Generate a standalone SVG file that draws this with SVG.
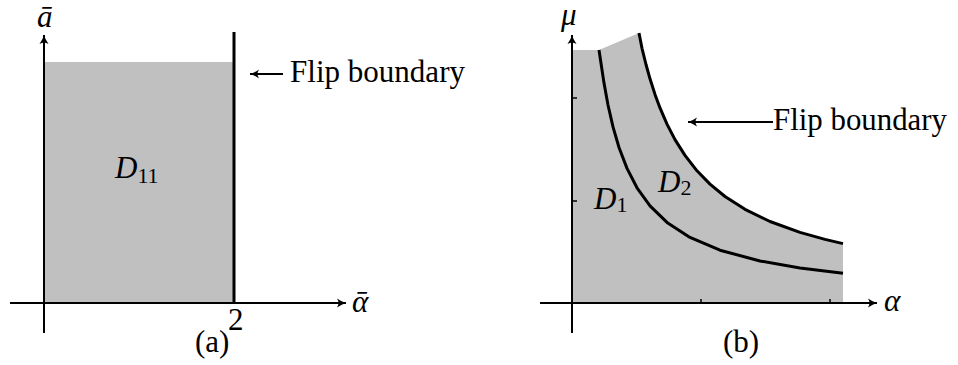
<svg xmlns="http://www.w3.org/2000/svg" width="958" height="365" viewBox="0 0 958 365">
<style>
.region{fill:#c0c0c0;stroke:none}
.axis{stroke:#000;stroke-width:2;fill:none}
.bound{stroke:#000;stroke-width:3;fill:none;stroke-linejoin:round}
.tick{stroke:#000;stroke-width:1.5}
.txt{font-family:"Liberation Serif","Times New Roman",serif;font-size:31px;fill:#000}
.math{font-family:"Liberation Serif","Times New Roman",serif;font-style:italic;font-size:31px;fill:#000}
.sub{font-family:"Liberation Serif","Times New Roman",serif;font-size:22px;fill:#000}
.arr{stroke:#000;stroke-width:1.8;fill:none}
</style>
<defs>
<marker id="tip" markerWidth="12" markerHeight="10" refX="0" refY="0" viewBox="-10 -5 12 10" orient="auto" markerUnits="userSpaceOnUse">
<path d="M-9,-4.5 Q-4,-1 0,0 Q-4,1 -9,4.5 Q-6,0 -9,-4.5 Z" fill="#000"/>
</marker>
</defs>

<g id="panel-a">
<rect class="region" x="44" y="62" width="190" height="241"/>
<g id="boundary-a"><line class="bound" x1="234" y1="32" x2="234" y2="303"/></g>
<text class="math" x="37" y="27" font-size="29">ā</text>
<text class="txt" x="228" y="330">2</text>
<text class="txt" x="195" y="352">(a)</text>
<text class="math" x="352" y="312">ᾱ</text>
<text id="D11" class="math" x="115" y="178">D<tspan class="sub" font-style="normal" dy="5">11</tspan></text>
<text class="txt" x="290" y="82" textLength="175" lengthAdjust="spacingAndGlyphs">Flip boundary</text>
</g>

<g id="panel-b">
<path class="region" d="M572,303 L572,50 L599,50 L639,33 L642,48.3 L646,64.5 L650,78.8 L655,94.4 L660,107.9 L667,124.1 L675,139.6 L685,155.4 L697,170.8 L710,184.1 L725,196.5 L745,209.3 L770,221.5 L800,232.4 L825,239.4 L843,243.6 L843,303 Z"/>
<g id="outer-curve"><path class="bound" d="M639,33 L642,48.3 L646,64.5 L650,78.8 L655,94.4 L660,107.9 L667,124.1 L675,139.6 L685,155.4 L697,170.8 L710,184.1 L725,196.5 L745,209.3 L770,221.5 L800,232.4 L825,239.4 L843,243.6"/></g>
<g id="inner-curve"><path class="bound" d="M599,50 L601,63.2 L604,83.1 L608,105 L613,126.9 L619,147.5 L627,168.4 L637,187.8 L650,205.9 L667,222.4 L690,237.4 L720,250.2 L760,261 L800,268 L843,273.3"/></g>
<line class="tick" x1="572" y1="98" x2="577" y2="98"/>
<line class="tick" x1="572" y1="201" x2="577" y2="201"/>
<line class="tick" x1="701" y1="303" x2="701" y2="299"/>
<line class="tick" x1="830" y1="303" x2="830" y2="299"/>
<text class="math" x="561" y="25" font-size="27">μ</text>
<text class="math" x="884" y="311">α</text>
<text class="txt" x="723" y="352">(b)</text>
<text id="D1" class="math" x="594" y="209">D<tspan class="sub" font-style="normal" dy="3">1</tspan></text>
<text id="D2" class="math" x="658" y="192">D<tspan class="sub" font-style="normal" dy="3">2</tspan></text>
<text class="txt" x="773" y="130" textLength="174" lengthAdjust="spacingAndGlyphs">Flip boundary</text>
</g>

<g id="connectors">
<line class="axis" x1="44" y1="333" x2="44" y2="35" marker-end="url(#tip)"/>
<line class="axis" x1="10" y1="303" x2="346" y2="303" marker-end="url(#tip)"/>
<line class="axis" x1="572" y1="333" x2="572" y2="35" marker-end="url(#tip)"/>
<line class="axis" x1="540" y1="303" x2="877" y2="303" marker-end="url(#tip)"/>
<line class="arr" x1="283" y1="74" x2="250" y2="74" marker-end="url(#tip)"/>
<line class="arr" x1="773" y1="122" x2="688" y2="122" marker-end="url(#tip)"/>
</g>
</svg>
